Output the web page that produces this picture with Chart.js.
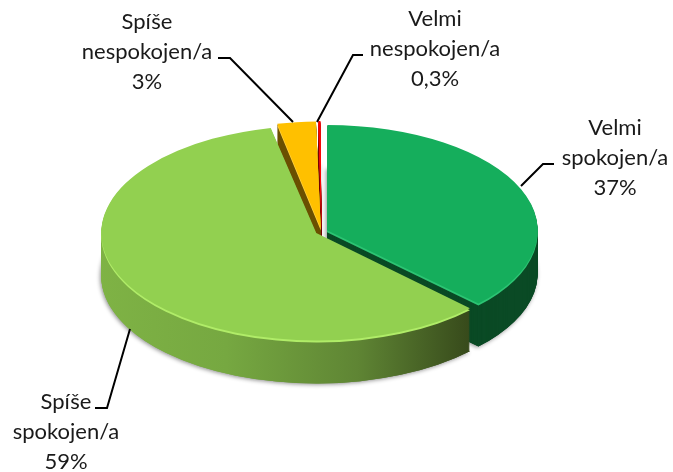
<!DOCTYPE html>
<html>
<head>
<meta charset="utf-8">
<style>
  html, body { margin: 0; padding: 0; background: #fff; }
  #wrap { width: 673px; height: 472px; position: relative; }
</style>
<script src="https://cdn.jsdelivr.net/npm/chart.js@4/dist/chart.umd.min.js"></script>
</head>
<body>
<div id="wrap"><canvas id="pie3d"></canvas></div>
<script>
// chart values, clockwise from 12 o'clock
const categories = ['Velmi spokojen/a', 'Spíše spokojen/a', 'Spíše nespokojen/a', 'Velmi nespokojen/a'];
const shares = [37, 59, 3, 0.3];
const shareLabels = ['37%', '59%', '3%', '0,3%'];

// styling per slice, same order as above
const topColors = ['#15ae5c', '#92d050', '#ffc000', '#ff0000'];
const rimColors = ['#2cc473', '#b0ec68', '#ffd040', '#ff3030'];
const paintOrder = [3, 2, 0, 1];

const TILT = 0.5;
const DEPTH = 43;
const CENTER_X = 321.5;
const CENTER_Y = 231.5;

// text block and leader elbow for every slice
const labelLines = [['Velmi', 'spokojen/a'], ['Spíše', 'spokojen/a'], ['Spíše', 'nespokojen/a'], ['Velmi', 'nespokojen/a']];
const labelCenters = [[615, 128], [66, 402], [147, 22], [435, 19]];
const leaderPaths = [
  [[521, 186], [543, 164], [554, 164]],
  [[130, 329], [107, 408], [95, 408]],
  [[293, 122], [230, 58], [218, 58]],
  [[317, 122], [353, 55], [363, 55]]
];

function sideFill(ctx, i) {
  if (i === 1) {
    const g = ctx.createLinearGradient(115, 0, 490, 0);
    g.addColorStop(0, '#7fb345');
    g.addColorStop(0.35, '#76a841');
    g.addColorStop(0.7, '#5f8534');
    g.addColorStop(1, '#374a1b');
    return g;
  }
  return ['#0a4a25', null, '#6b5000', '#7a0000'][i];
}

function drawWith(arc, ctx, color) {
  const copy = Object.create(arc);
  copy.options = Object.assign({}, arc.options, { backgroundColor: color });
  copy.draw(ctx);
}

const pie3d = {
  id: 'pie3d',
  beforeDatasetsDraw(chart) {
    const ctx = chart.ctx;
    const arcs = chart.getDatasetMeta(0).data;
    ctx.save();
    ctx.translate(CENTER_X - arcs[0].x, CENTER_Y);
    ctx.scale(1, TILT);
    ctx.translate(0, -arcs[0].y);
    paintOrder.forEach((i) => {
      const arc = arcs[i];
      const side = sideFill(ctx, i);
      // soft shadow under the body
      ctx.save();
      ctx.shadowColor = 'rgba(0,0,0,0.45)';
      ctx.shadowBlur = 4;
      ctx.shadowOffsetX = -1;
      ctx.shadowOffsetY = 1;
      ctx.translate(0, DEPTH / TILT);
      drawWith(arc, ctx, side);
      ctx.restore();
      for (let d = DEPTH; d >= 1; d--) {
        ctx.save();
        ctx.translate(0, d / TILT);
        drawWith(arc, ctx, side);
        ctx.restore();
      }
      ctx.save();
      ctx.translate(0, 2 / TILT);
      drawWith(arc, ctx, rimColors[i]);
      ctx.restore();
      drawWith(arc, ctx, topColors[i]);
    });
    ctx.restore();
    // tops are painted above, in depth order, so skip the library's flat pass
    return false;
  },
  afterDraw(chart) {
    const ctx = chart.ctx;
    ctx.save();
    ctx.strokeStyle = '#000';
    ctx.lineWidth = 2;
    leaderPaths.forEach((path) => {
      ctx.beginPath();
      path.forEach((p, i) => (i ? ctx.lineTo(p[0], p[1]) : ctx.moveTo(p[0], p[1])));
      ctx.stroke();
    });
    ctx.fillStyle = '#1a1a1a';
    ctx.font = '22px Lato';
    ctx.textAlign = 'center';
    ctx.textBaseline = 'middle';
    labelLines.forEach((lines, i) => {
      const [x, y] = labelCenters[i];
      lines.concat(shareLabels[i]).forEach((t, n) => ctx.fillText(t, x, y + n * 30));
    });
    ctx.restore();
  }
};

new Chart(document.getElementById('pie3d'), {
  type: 'pie',
  data: {
    labels: categories,
    datasets: [{
      data: shares,
      backgroundColor: topColors,
      borderWidth: 0,
      offset: 24,
      clip: false
    }]
  },
  options: {
    responsive: true,
    maintainAspectRatio: false,
    animation: false,
    radius: 209,
    layout: { padding: 0 },
    plugins: { legend: { display: false }, tooltip: { enabled: false } }
  },
  plugins: [pie3d]
});
</script>
</body>
</html>
